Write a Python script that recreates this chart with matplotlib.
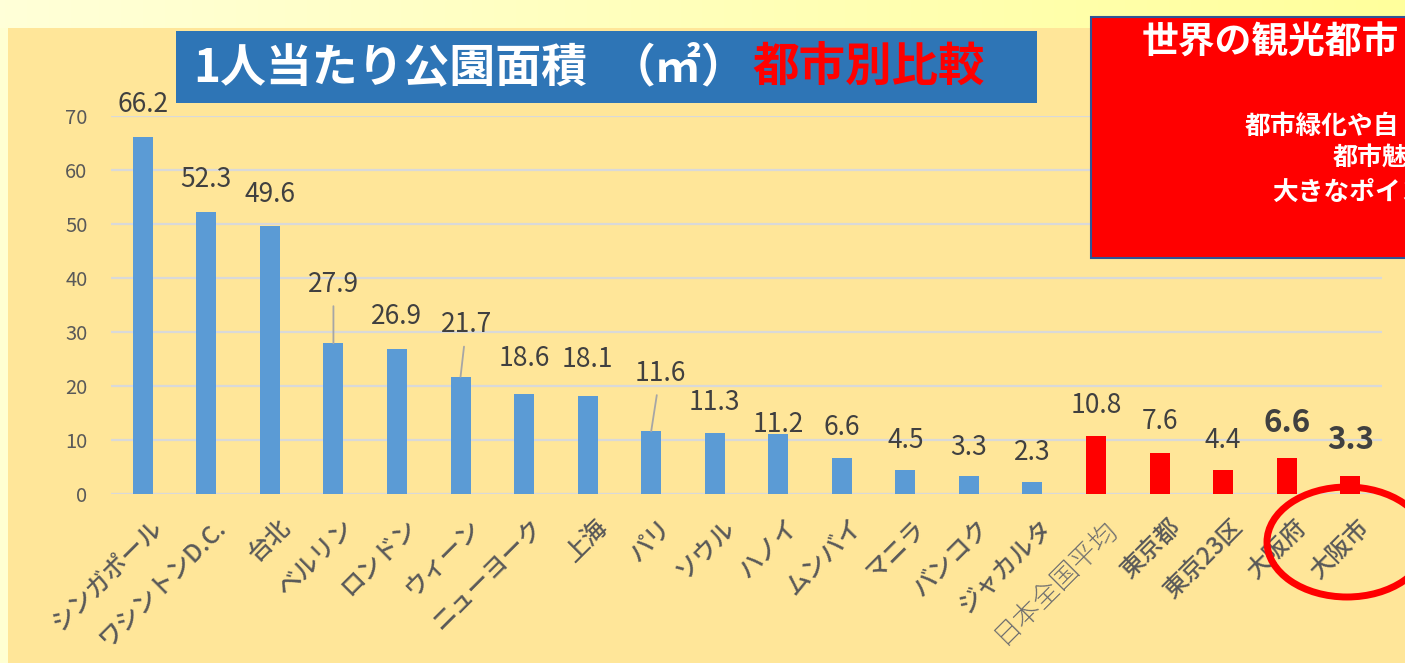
import matplotlib
matplotlib.use("Agg")
import matplotlib.pyplot as plt
import numpy as np
from matplotlib.patches import Rectangle, Ellipse
from matplotlib.colors import LinearSegmentedColormap
from matplotlib.transforms import offset_copy

plt.rcParams['font.family'] = ['Noto Sans CJK JP', 'DejaVu Sans']

# data
cities = ['シンガポール', 'ワシントンD.C.', '台北', 'ベルリン', 'ロンドン', 'ウィーン',
          'ニューヨーク', '上海', 'パリ', 'ソウル', 'ハノイ', 'ムンバイ', 'マニラ',
          'バンコク', 'ジャカルタ', '日本全国平均', '東京都', '東京23区', '大阪府', '大阪市']
park_area = [66.2, 52.3, 49.6, 27.9, 26.9, 21.7, 18.6, 18.1, 11.6, 11.3, 11.2,
             6.6, 4.5, 3.3, 2.3, 10.8, 7.6, 4.4, 6.6, 3.3]
is_japan = [False] * 15 + [True] * 5
highlight = ['大阪府', '大阪市']

# label placement (pixels above bar top, x shift) - styling only
label_dy = [32, 32, 32, 59, 32, 52, 35, 37, 58, 30, 9, 31, 29, 29, 29, 30, 31, 30, 35, 36]
label_dx = [0, 0, 0, 0, 0, 6, 0, 0, 9, 0, 0, 0, 0, 0, 0, 0, 0, 0, 0, 0]
leader = ['ベルリン', 'ウィーン', 'パリ']

W, H = 1405, 663
fig = plt.figure(figsize=(W / 100, H / 100), dpi=100)
fig.patch.set_facecolor('#FFFFD2')

# background layer in pixel coords
bg = fig.add_axes([0, 0, 1, 1], zorder=-10)
bg.set_xlim(0, W)
bg.set_ylim(H, 0)
bg.axis('off')
grad = LinearSegmentedColormap.from_list('g', ['#FFFFD8', '#FFFF9C'])
bg.imshow(np.linspace(0, 1, 256)[None, :], cmap=grad, extent=[0, W, 28, 0], aspect='auto')
bg.add_patch(Rectangle((8, 28), W - 8, H - 28, facecolor='#FFE699', edgecolor='none'))

# chart
ax = fig.add_axes([111 / W, (H - 494) / H, (1382 - 111) / W, (494 - 116) / H])
ax.patch.set_alpha(0)
x = np.arange(len(cities))
colors = ['#FF0000' if j else '#5B9BD5' for j in is_japan]
ax.bar(x, park_area, width=0.315, color=colors, zorder=3)
ax.set_xlim(-0.5, len(cities) - 0.5)
ax.set_ylim(0, 70)
ax.set_yticks(range(0, 80, 10))
ax.set_xticks([])
ax.tick_params(axis='y', length=0, pad=17, labelsize=14.5, labelcolor='#595959')
for s in ax.spines.values():
    s.set_visible(False)
ax.grid(axis='y', color='#D9D9D9', lw=1.6, zorder=0)
ax.axhline(0, color='#D9D9D9', lw=2.2, zorder=2)

for i, (name, v) in enumerate(zip(cities, park_area)):
    bold = name in highlight
    kw = dict(ha='center', va='center', color='#404040',
              fontsize=22.5 if bold else 19, fontweight='bold' if bold else 'normal',
              annotation_clip=False)
    if name in leader:
        ax.annotate(f'{v}', (i, v), xytext=(label_dx[i], label_dy[i]), textcoords='offset pixels',
                    arrowprops=dict(arrowstyle='-', color='#A6A6A6', lw=1.3, shrinkA=4, shrinkB=0),
                    **kw)
    else:
        ax.annotate(f'{v}', (i, v), xytext=(label_dx[i], label_dy[i]), textcoords='offset pixels', **kw)

    tr = offset_copy(ax.transData, fig=fig, x=7, y=-20, units='dots')
    light = name == '日本全国平均'
    ax.text(i, 0, name, transform=tr, rotation=45, rotation_mode='anchor',
            ha='right', va='top', fontsize=19.5 if light else 17.5,
            color='#6F6F6F' if light else '#595959',
            fontweight='light' if light else 'medium')

# overlay decorations in pixel coords
top = fig.add_axes([0, 0, 1, 1], zorder=10)
top.set_xlim(0, W)
top.set_ylim(H, 0)
top.axis('off')

top.add_patch(Rectangle((176, 31), 1037 - 176, 72, facecolor='#2E75B6', edgecolor='none'))
top.text(193, 68, '1人当たり公園面積', color='white', fontsize=33, fontweight='bold',
         ha='left', va='center')
top.text(610, 68, '（㎡）', color='white', fontsize=33, fontweight='bold',
         ha='left', va='center')
top.text(752, 68, '都市別比較', color='#FF0000', fontsize=33.5, fontweight='bold',
         ha='left', va='center')

top.add_patch(Rectangle((1091, 17), 500, 241, facecolor='#FF0000', edgecolor='#2F5597',
                        lw=1.5, clip_on=False))
top.text(1142, 43, '世界の観光都市', color='white', fontsize=26.5, fontweight='bold',
         ha='left', va='center')
top.text(1245, 126, '都市緑化や自', color='white', fontsize=18.5, fontweight='bold',
         ha='left', va='center')
top.text(1333, 158, '都市魅', color='white', fontsize=18, fontweight='bold',
         ha='left', va='center')
top.text(1272, 192, '大きなポイン', color='white', fontsize=18.5, fontweight='bold',
         ha='left', va='center')

top.add_patch(Ellipse((1347, 542), 160, 110, facecolor='none', edgecolor='#FF0000', lw=5,
                      clip_on=False))

fig.savefig('out.png', dpi=100, facecolor=fig.get_facecolor())
